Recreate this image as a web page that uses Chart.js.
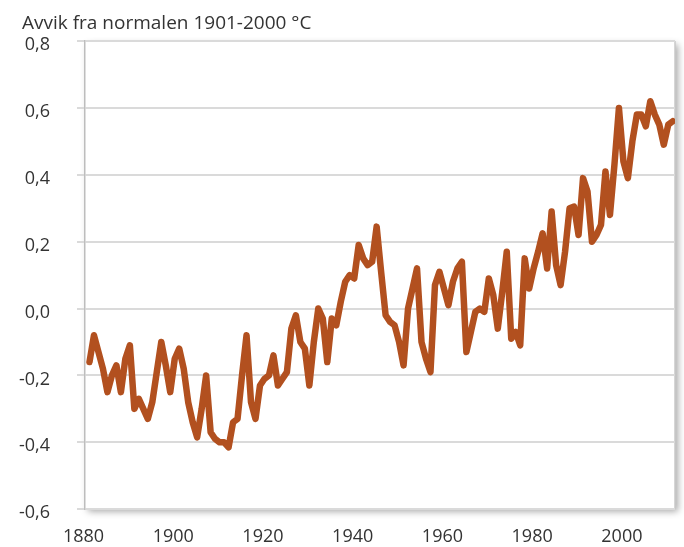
<!DOCTYPE html>
<html>
<head>
<meta charset="utf-8">
<script src="https://cdn.jsdelivr.net/npm/chart.js@4/dist/chart.umd.min.js"></script>
<style>
  html,body{margin:0;padding:0;background:#fff}
  #wrap{width:684px;height:547px;position:relative}
</style>
</head>
<body>
<div id="wrap"><canvas id="chart"></canvas></div>
<script>
// Temperaturavvik (°C) fra normalen 1901-2000, ett tall per år fra 1880
const firstYear = 1880;
const anomaly = [
  -0.16,-0.08,-0.13,-0.18,-0.25,-0.20,-0.17,-0.25,-0.15,-0.11, // 1880-1889
  -0.30,-0.27,-0.30,-0.33,-0.28,-0.19,-0.10,-0.17,-0.25,-0.15, // 1890-1899
  -0.12,-0.18,-0.28,-0.34,-0.385,-0.30,-0.20,-0.37,-0.39,-0.40, // 1900-1909
  -0.40,-0.415,-0.34,-0.33,-0.20,-0.08,-0.28,-0.33,-0.23,-0.21, // 1910-1919
  -0.20,-0.14,-0.23,-0.21,-0.19,-0.06,-0.02,-0.10,-0.12,-0.23, // 1920-1929
  -0.10,0.00,-0.03,-0.16,-0.03,-0.05,0.02,0.08,0.10,0.09,      // 1930-1939
  0.19,0.15,0.13,0.14,0.245,0.11,-0.02,-0.04,-0.05,-0.10,      // 1940-1949
  -0.17,0.00,0.06,0.12,-0.10,-0.15,-0.19,0.07,0.11,0.06,       // 1950-1959
  0.01,0.08,0.12,0.14,-0.13,-0.07,-0.01,0.00,-0.01,0.09,       // 1960-1969
  0.04,-0.06,0.05,0.17,-0.09,-0.07,-0.11,0.15,0.06,0.12,       // 1970-1979
  0.17,0.225,0.12,0.29,0.13,0.07,0.17,0.30,0.305,0.22,         // 1980-1989
  0.39,0.35,0.20,0.22,0.25,0.41,0.28,0.43,0.60,0.44,           // 1990-1999
  0.39,0.50,0.58,0.58,0.545,0.62,0.58,0.55,0.49,0.55,          // 2000-2009
  0.56                                                          // 2010
];
const xTicks = [1880, 1900, 1920, 1940, 1960, 1980, 2000];
const yTicks = [-0.6, -0.4, -0.2, 0, 0.2, 0.4, 0.6, 0.8];
const unitTitle = 'Avvik fra normalen 1901-2000 °C';

const points = anomaly.map(function(v, i){ return {x: firstYear + i, y: v}; });

const frameShadow = {
  id: 'frameShadow',
  beforeDraw: function(chart){
    const a = chart.chartArea, ctx = chart.ctx;
    ctx.save();
    ctx.shadowColor = 'rgba(0,0,0,0.35)';
    ctx.shadowBlur = 7;
    ctx.shadowOffsetX = 3;
    ctx.shadowOffsetY = 3;
    ctx.fillStyle = '#fff';
    ctx.fillRect(a.left, a.top, a.right - a.left, a.bottom - a.top);
    ctx.restore();
    ctx.save();
    ctx.strokeStyle = '#c8c8c8';
    ctx.lineWidth = 1.5;
    ctx.beginPath();
    ctx.moveTo(a.right, a.top); ctx.lineTo(a.right, a.bottom);
    ctx.stroke();
    ctx.restore();
  },
  afterDraw: function(chart){
    const ctx = chart.ctx;
    ctx.save();
    ctx.font = '19px "Open Sans"';
    ctx.fillStyle = '#333';
    ctx.textBaseline = 'alphabetic';
    ctx.fillText(unitTitle, 22, 29);
    ctx.restore();
  }
};

new Chart(document.getElementById('chart'), {
  type: 'line',
  data: {
    datasets: [{
      data: points,
      borderColor: '#b2501f',
      borderWidth: 6.5,
      borderJoinStyle: 'round',
      borderCapStyle: 'round',
      pointRadius: 0,
      tension: 0,
      fill: false
    }]
  },
  options: {
    responsive: true,
    maintainAspectRatio: false,
    animation: false,
    layout: {padding: {left: 0, right: 9, top: 41, bottom: 0}},
    plugins: {legend: {display: false}, tooltip: {enabled: false}, title: {display: false}},
    scales: {
      x: {
        type: 'linear',
        min: 1879,
        max: 2010.5,
        afterBuildTicks: function(s){ s.ticks = xTicks.map(function(v){ return {value: v}; }); },
        afterFit: function(s){ s.height = 35; },
        grid: {display: false},
        border: {display: false},
        ticks: {
          color: '#333',
          font: {family: '"Open Sans"', size: 18},
          padding: 9,
          labelOffset: -6,
          maxRotation: 0,
          callback: function(v){ return String(v); }
        }
      },
      y: {
        min: -0.6,
        max: 0.8,
        afterBuildTicks: function(s){ s.ticks = yTicks.map(function(v){ return {value: v}; }); },
        afterFit: function(s){ s.width = 85; },
        grid: {color: '#dadada', lineWidth: 2, tickLength: 8, tickColor: '#dadada'},
        border: {display: true, color: '#bdbdbd', width: 1.5},
        ticks: {
          color: '#333',
          font: {family: '"Open Sans"', size: 18},
          padding: 27,
          labelOffset: 4,
          callback: function(v){ return Math.abs(v) < 1e-9 ? '0,0' : v.toFixed(1).replace('.', ','); }
        }
      }
    }
  },
  plugins: [frameShadow]
});
</script>
</body>
</html>
